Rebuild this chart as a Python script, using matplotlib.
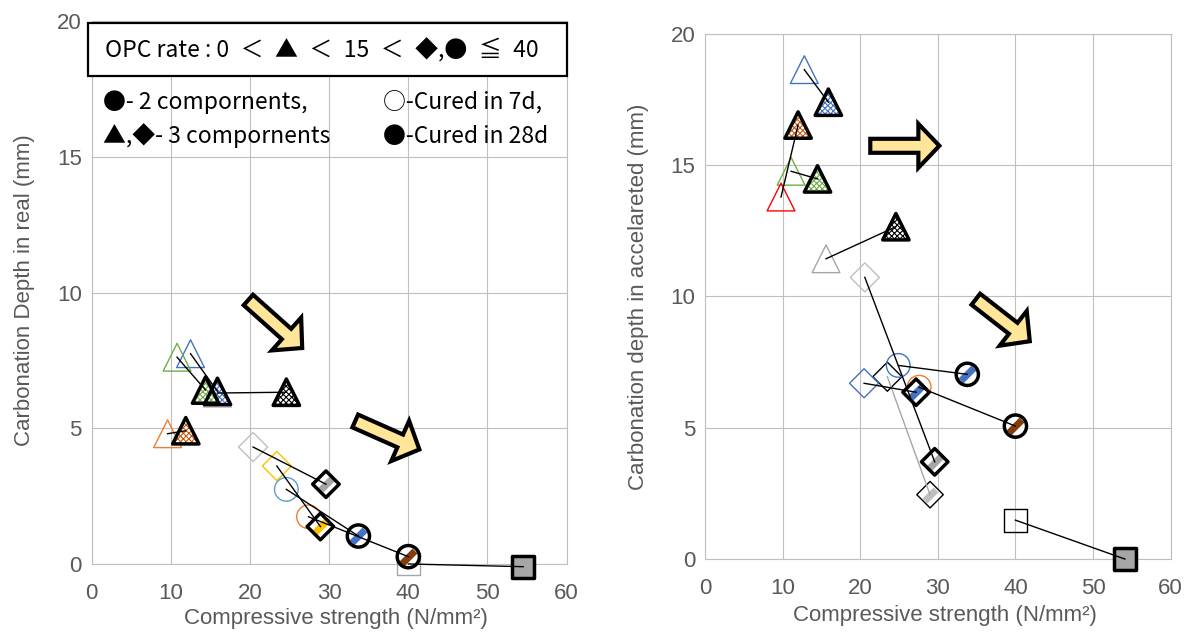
import matplotlib
matplotlib.use("Agg")
import matplotlib.pyplot as plt
import numpy as np
from matplotlib.path import Path
from matplotlib.patches import Polygon, Rectangle
from matplotlib.transforms import IdentityTransform

plt.rcParams['hatch.linewidth'] = 0.8

W, H = 1192, 643

# ---- natural exposure: 7-day cured (open) -> 28-day cured (filled) ----
real_x7 = [12.5, 10.8, 15.9, 9.6, 20.4, 23.4, 24.6, 27.4, 40.0]
real_y7 = [7.75, 7.62, 6.30, 4.80, 4.31, 3.61, 2.75, 1.74, 0.00]
real_x28 = [15.9, 14.4, 24.6, 11.9, 29.6, 28.9, 33.7, 40.0, 54.5]
real_y28 = [6.36, 6.41, 6.33, 4.91, 2.94, 1.38, 1.03, 0.27, -0.10]
real_marker = ['^', '^', '^', '^', 'D', 'D', 'o', 'o', 's']
real_c7 = ['#4472C4', '#70AD47', '#A6A6A6', '#ED7D31', '#BFBFBF',
           '#FFC000', '#5B9BD5', '#ED7D31', '#A6A6A6']
real_c28 = ['#4472C4', '#70AD47', '#000000', '#C55A11', '#A6A6A6',
            '#FFC000', '#4472C4', '#843C0C', '#A6A6A6']
real_ew28 = [2.5] * 9
real_link = ['black'] * 9

# ---- accelerated test ----
acc_x7 = [12.8, 11.1, 15.6, 9.8, 20.6, 23.5, 20.5, 24.9, 27.6, 40.0]
acc_y7 = [18.63, 14.76, 11.43, 13.78, 10.72, 6.94, 6.69, 7.37, 6.54, 1.48]
acc_x28 = [15.9, 14.5, 24.6, 12.0, 29.6, 29.0, 27.2, 33.8, 40.0, 54.1]
acc_y28 = [17.39, 14.47, 12.65, 16.52, 3.70, 2.45, 6.35, 7.03, 5.06, 0.00]
acc_marker = ['^', '^', '^', '^', 'D', 'D', 'D', 'o', 'o', 's']
acc_c7 = ['#4472C4', '#70AD47', '#A6A6A6', '#FF0000', '#BFBFBF',
          '#000000', '#4472C4', '#4472C4', '#ED7D31', '#000000']
acc_c28 = ['#4472C4', '#70AD47', '#000000', '#C55A11', '#A6A6A6',
           '#BFBFBF', '#4472C4', '#4472C4', '#843C0C', '#A6A6A6']
acc_ew28 = [2.5, 2.5, 2.5, 2.5, 2.5, 1.0, 2.5, 2.5, 2.5, 2.5]
acc_link = ['black'] * 5 + ['#A6A6A6'] + ['black'] * 4

x_ticks = [0, 10, 20, 30, 40, 50, 60]
y_ticks = [0, 5, 10, 15, 20]

OPEN_SIZE = {'^': 20, 'o': 17, 'D': 14.8, 's': 16.5}
FILLED_SIZE = {'^': 19, 'o': 16, 'D': 13.5, 's': 15.5}
STRIPE_SIZE = {'o': 9.4, 'D': 8.0}
STRIPE = Path([(-1, -1), (1, 1)])

TICK_FONT = 'Liberation Sans'
KEY_FONT = ['Noto Sans CJK JP', 'DejaVu Sans']
GREY = '#595959'
GRID = '#BFBFBF'


def draw_panel(ax, x7, y7, x28, y28, markers, c7, c28, ew28, link):
    for i, m in enumerate(markers):
        ax.scatter([x7[i]], [y7[i]], s=OPEN_SIZE[m] ** 2, marker=m,
                   facecolors='none', edgecolors=c7[i], linewidths=1.0,
                   zorder=3, clip_on=False)
        sz = FILLED_SIZE[m] ** 2
        if m == '^':
            ax.scatter([x28[i]], [y28[i]], s=sz, marker=m, facecolors='white',
                       edgecolors=c28[i], linewidths=0, hatch='xxxxxx',
                       zorder=4, clip_on=False)
            face = 'none'
        elif m in ('o', 'D'):
            ax.scatter([x28[i]], [y28[i]], s=sz, marker=m, facecolors='white',
                       edgecolors='none', zorder=4, clip_on=False)
            ax.plot([x28[i]], [y28[i]], ls='none', marker=STRIPE,
                    ms=STRIPE_SIZE[m], mew=5, mec=c28[i], zorder=4.1,
                    clip_on=False)
            face = 'none'
        else:
            face = c28[i]
        ax.scatter([x28[i]], [y28[i]], s=sz, marker=m, facecolors=face,
                   edgecolors='black', linewidths=ew28[i], zorder=4.2,
                   clip_on=False)
        ax.plot([x7[i], x28[i]], [y7[i], y28[i]], color=link[i], lw=1.0,
                zorder=5, clip_on=False)


def style_axes(ax):
    ax.set_xlim(0, 60)
    ax.set_ylim(0, 20)
    ax.set_xticks(x_ticks)
    ax.set_yticks(y_ticks)
    ax.grid(True, color=GRID, lw=0.8)
    ax.set_axisbelow(True)
    for s in ax.spines.values():
        s.set_color(GRID)
        s.set_linewidth(0.8)
    ax.tick_params(length=0, labelsize=16, labelcolor=GREY)
    ax.tick_params(axis='x', pad=14)
    ax.tick_params(axis='y', pad=7)
    for lab in ax.get_xticklabels() + ax.get_yticklabels():
        lab.set_fontfamily(TICK_FONT)


def block_arrow(fig, ax, tail, tip, shaft=14, head_w=44, head_len=21):
    p0 = ax.transData.transform(tail)
    p1 = ax.transData.transform(tip)
    d = p1 - p0
    u = d / np.hypot(*d)
    n = np.array([-u[1], u[0]])
    b = p1 - u * head_len
    pts = [p0 + n * shaft / 2, b + n * shaft / 2, b + n * head_w / 2, p1,
           b - n * head_w / 2, b - n * shaft / 2, p0 - n * shaft / 2]
    poly = Polygon(pts, closed=True, facecolor='#FFE699', edgecolor='black',
                   lw=3, joinstyle='miter', zorder=6)
    poly.set_transform(IdentityTransform())
    fig.add_artist(poly)


def fpx(x, y):
    """pixel position (origin top-left) -> figure fraction"""
    return x / W, 1 - y / H


fig = plt.figure(figsize=(W / 100, H / 100), dpi=100)
ax1 = fig.add_axes([0.0768, 0.1229, 0.3986, 0.8440])
ax2 = fig.add_axes([0.5914, 0.1306, 0.3907, 0.8171])

style_axes(ax1)
style_axes(ax2)

draw_panel(ax1, real_x7, real_y7, real_x28, real_y28, real_marker,
           real_c7, real_c28, real_ew28, real_link)
draw_panel(ax2, acc_x7, acc_y7, acc_x28, acc_y28, acc_marker,
           acc_c7, acc_c28, acc_ew28, acc_link)

label_kw = dict(fontsize=16, color=GREY, fontfamily=TICK_FONT)
ax1.set_xlabel('Compressive strength (N/mm²)', **label_kw)
ax1.xaxis.set_label_coords(0.515, -0.081)
ax2.set_xlabel('Compressive strength (N/mm²)', **label_kw)
ax2.xaxis.set_label_coords(0.515, -0.088)
ax1.set_ylabel('Carbonation Depth in real (mm)', **label_kw)
ax1.yaxis.set_label_coords(-0.119, 0.505)
ax2.set_ylabel('Carbonation depth in accelareted (mm)', **label_kw)
ax2.yaxis.set_label_coords(-0.120, 0.50)

# trend arrows
block_arrow(fig, ax1, (19.8, 9.73), (26.6, 7.96))
block_arrow(fig, ax1, (33.3, 5.27), (41.4, 4.22))
block_arrow(fig, ax2, (21.3, 15.73), (30.2, 15.73))
block_arrow(fig, ax2, (34.9, 9.89), (41.85, 8.29))

# key box
x0, y0 = fpx(88.3, 76.3)
x1, y1 = fpx(567.3, 22.7)
fig.add_artist(Rectangle((x0, y0), x1 - x0, y1 - y0, transform=fig.transFigure,
                         facecolor='white', edgecolor='black', lw=1.6, zorder=7))
key_kw = dict(fontsize=16.5, family=KEY_FONT, va='baseline', ha='left', zorder=8)
sp = '\u2002'
opc_key = ('OPC rate : 0' + sp + '＜' + sp + '▲' + sp + '＜' + sp + '15'
           + sp + '＜' + sp + '◆,●' + sp + '≦' + sp + '40')
fig.text(*fpx(105, 58), opc_key, **key_kw)
fig.text(*fpx(103, 109), '●- 2 compornents,', **key_kw)
fig.text(*fpx(103, 143), '▲,◆- 3 compornents', **key_kw)
fig.text(*fpx(383, 109), '○-Cured in 7d,', **key_kw)
fig.text(*fpx(383, 143), '●-Cured in 28d', **key_kw)

fig.savefig('out.png', dpi=100)
